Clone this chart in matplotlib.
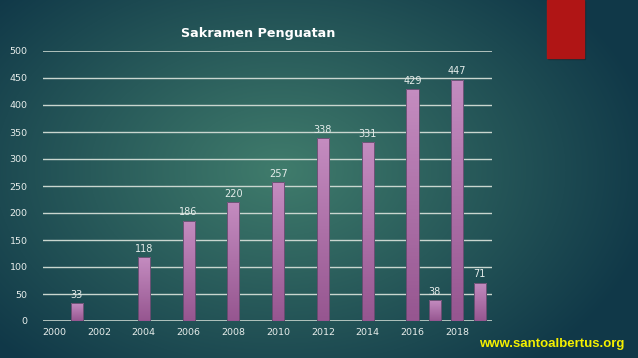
import numpy as np
import matplotlib.pyplot as plt
from matplotlib.patches import Rectangle

years = [2001, 2004, 2006, 2008, 2010, 2012, 2014, 2016, 2017, 2018, 2019]
counts = [33, 118, 186, 220, 257, 338, 331, 429, 38, 447, 71]
xticks = [2000, 2002, 2004, 2006, 2008, 2010, 2012, 2014, 2016, 2018]
yticks = [0, 50, 100, 150, 200, 250, 300, 350, 400, 450, 500]
title = "Sakramen Penguatan"
site = "www.santoalbertus.org"

W, H = 638, 358
fig = plt.figure(figsize=(W / 100, H / 100), dpi=100)

# background: radial teal gradient
bg = fig.add_axes([0, 0, 1, 1])
yy, xx = np.mgrid[0:H, 0:W]
d = np.sqrt(((xx - 280) / 380.0) ** 2 + ((yy - 170) / 260.0) ** 2)
d = np.clip(d, 0, 1)[..., None]
inner = np.array([0x40, 0x7c, 0x6c]) / 255
outer = np.array([0x10, 0x38, 0x48]) / 255
img = inner * (1 - d) + outer * d
bg.imshow(img, extent=[0, W, H, 0], aspect="auto")
bg.set_xlim(0, W)
bg.set_ylim(H, 0)
bg.axis("off")

# red box top right
bg.add_patch(Rectangle((548, 1), 37, 58, color="#0a2a30", alpha=0.5, zorder=2))
bg.add_patch(Rectangle((547, 0), 37, 58, color="#b01515", zorder=3))

# chart axes
ax = fig.add_axes([43 / W, 1 - 321 / H, (492 - 43) / W, (321 - 51) / H])
ax.patch.set_alpha(0)
for v in yticks:
    ax.axhline(v, color="#c9d6cf", lw=1.2 if v in (0, 500) else 1.0, zorder=1)

bw = 0.54
grad = np.linspace(0, 1, 64)[:, None]
top = np.array([0xc4, 0x8c, 0xc0]) / 255
bot = np.array([0x96, 0x56, 0x90]) / 255
bar_img = (top * (1 - grad[..., None]) + bot * grad[..., None])
bars = ax.bar(years, counts, width=bw, color="none", edgecolor="#5e4a6a", lw=0.6, zorder=3)
for b in bars:
    x0, y0, w, h = b.get_x(), b.get_y(), b.get_width(), b.get_height()
    im = ax.imshow(bar_img, extent=[x0, x0 + w, y0, y0 + h], origin="upper",
                   aspect="auto", zorder=2)
    im.set_clip_path(b)
ax.set_xlim(1999.5, 2019.55)
ax.set_ylim(0, 500)

for x, v in zip(years, counts):
    ax.text(x, v + 6, str(v), ha="center", va="bottom", fontsize=7, color="#e4ecea", zorder=4)

ax.set_xticks(xticks)
ax.set_yticks(yticks)
ax.tick_params(length=0, labelsize=6.8, colors="#e8eeec")
ax.tick_params(axis="x", pad=5)
ax.tick_params(axis="y", pad=11)
for s in ax.spines.values():
    s.set_visible(False)

fig.text(258 / W, 1 - 33 / H, title, ha="center", va="center", fontsize=9.2,
         fontweight="bold", color="white")
fig.text(552 / W, 1 - 344 / H, site, ha="center", va="center", fontsize=9.5,
         fontweight="bold", color="#f5f000", family="Liberation Sans")

fig.savefig("out.png", dpi=100)
